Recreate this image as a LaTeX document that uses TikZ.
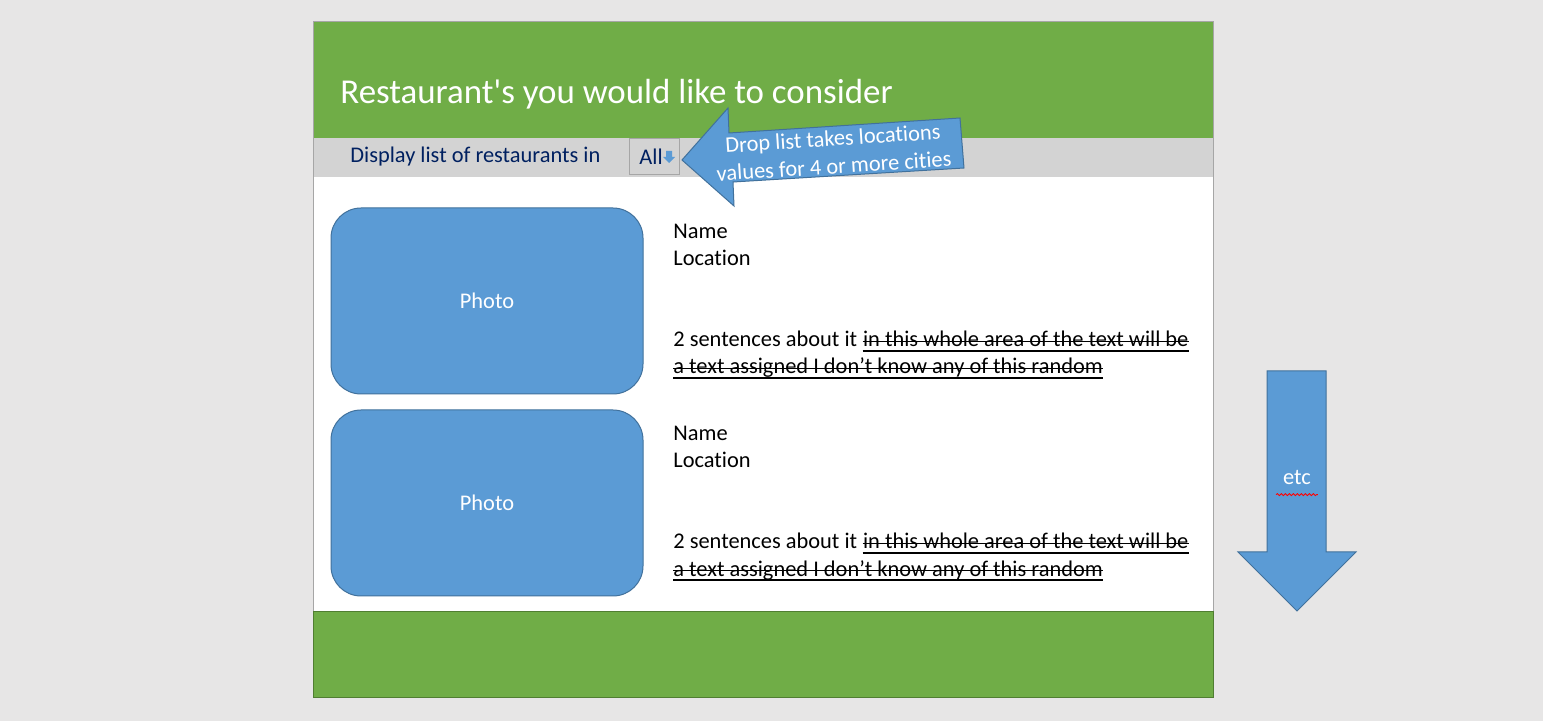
\documentclass[tikz,border=0pt]{standalone}
\usepackage{fontspec}
\setmainfont{Carlito}[Ligatures=NoCommon]
\usetikzlibrary{decorations.pathmorphing,calc}
\definecolor{bgc}{HTML}{E7E6E6}
\definecolor{grn}{HTML}{70AD47}
\definecolor{grnd}{HTML}{507E32}
\definecolor{band}{HTML}{D3D3D3}
\definecolor{blu}{HTML}{5B9BD5}
\definecolor{blud}{HTML}{41719C}
\definecolor{navy}{HTML}{002060}
\definecolor{frm}{HTML}{A6A6A6}
\tikzset{
  body/.style={inner sep=0pt, anchor=base west, font=\fontsize{11.2}{13.5}\selectfont, text=black},
  photo/.style={fill=blu, draw=blud, line width=0.5pt, rounded corners=15pt},
  phototext/.style={text=white, font=\fontsize{11.2}{13.5}\selectfont},
  callouttext/.style={text=white, rotate=3.7, inner sep=0pt, font=\fontsize{11.2}{13}\selectfont},
  blockarrow/.style={fill=blu, draw=blud, line width=0.5pt},
  strikeline/.style={line width=0.65pt},
  underln/.style={line width=1pt}
}
\newcommand{\strikeunder}[1]{%
  \draw[strikeline] ([yshift=2.9pt]#1.base west) -- ([yshift=2.9pt]#1.base east);
  \draw[underln] ([yshift=-1.9pt]#1.base west) -- ([yshift=-1.9pt]#1.base east);}
\begin{document}
\begin{tikzpicture}[x=0.5pt,y=-0.5pt]
\useasboundingbox (0,0) rectangle (1543,721);
\fill[bgc] (0,0) rectangle (1543,721);
% frame
\fill[white] (313,22) rectangle (1213,697);
\fill[grn] (313,22) rectangle (1213,138);
\fill[band] (313,138) rectangle (1213,177);
\draw[frm, line width=0.5pt] (313,22) rectangle (1213,697);
\draw[grnd, fill=grn, line width=0.5pt] (313,611) rectangle (1213,697);
% title
\node[inner sep=0pt, anchor=base west, text=white, font=\fontsize{17.45}{20}\selectfont] (title) at (340,104) {Restaurant\textquotesingle s you would like to consider};
% display band
\node[body, text=navy] (display) at (350,163) {Display list of restaurants in};
\draw[frm, fill=band, line width=0.5pt] (629,139) rectangle (679,175);
\node[body, text=navy] (all) at (639,165) {All};
\fill[blu] (666,151) -- (672,151) -- (672,157) -- (675,157) -- (669,163) -- (663,157) -- (666,157) -- cycle;
% callout arrow
\draw[blockarrow] (682,160) -- (728,108) -- (729,133) -- (960,118) -- (964,168) -- (733,182) -- (734,206) -- cycle;
\node[callouttext] (callout1) at (833,140) {Drop list takes locations};
\node[callouttext] (callout2) at (834,166) {values for 4 or more cities};
% entries
\foreach \dy/\k in {0/a,202/b}{
  \draw[photo] (331,208+\dy) rectangle (643,394+\dy);
  \node[phototext] (photo\k) at (487,301+\dy) {Photo};
  \node[body] (name\k) at (673,239+\dy) {Name};
  \node[body] (loc\k) at (673,266+\dy) {Location};
  \node[body] (sent\k) at (673,347+\dy) {2 sentences about it};
  \node[body, anchor=base west] (stA\k) at ([xshift=2.55pt]sent\k.base east) {in this whole area of the text will be};
  \node[body] (stB\k) at (673,374+\dy) {a text assigned I don’t know any of this random};
  \strikeunder{stA\k}
  \strikeunder{stB\k}
}
% etc arrow
\draw[blockarrow] (1267,371) -- (1326,371) -- (1326,552) -- (1356,552) -- (1297,611) -- (1238,552) -- (1267,552) -- cycle;
\node[phototext] (etc) at (1297,478) {etc};
\draw[red, line width=0.4pt, decorate, decoration={snake, amplitude=0.5pt, segment length=2pt}] ([yshift=-1.2pt]etc.south west) -- ([yshift=-1.2pt]etc.south east);
\end{tikzpicture}
\end{document}
